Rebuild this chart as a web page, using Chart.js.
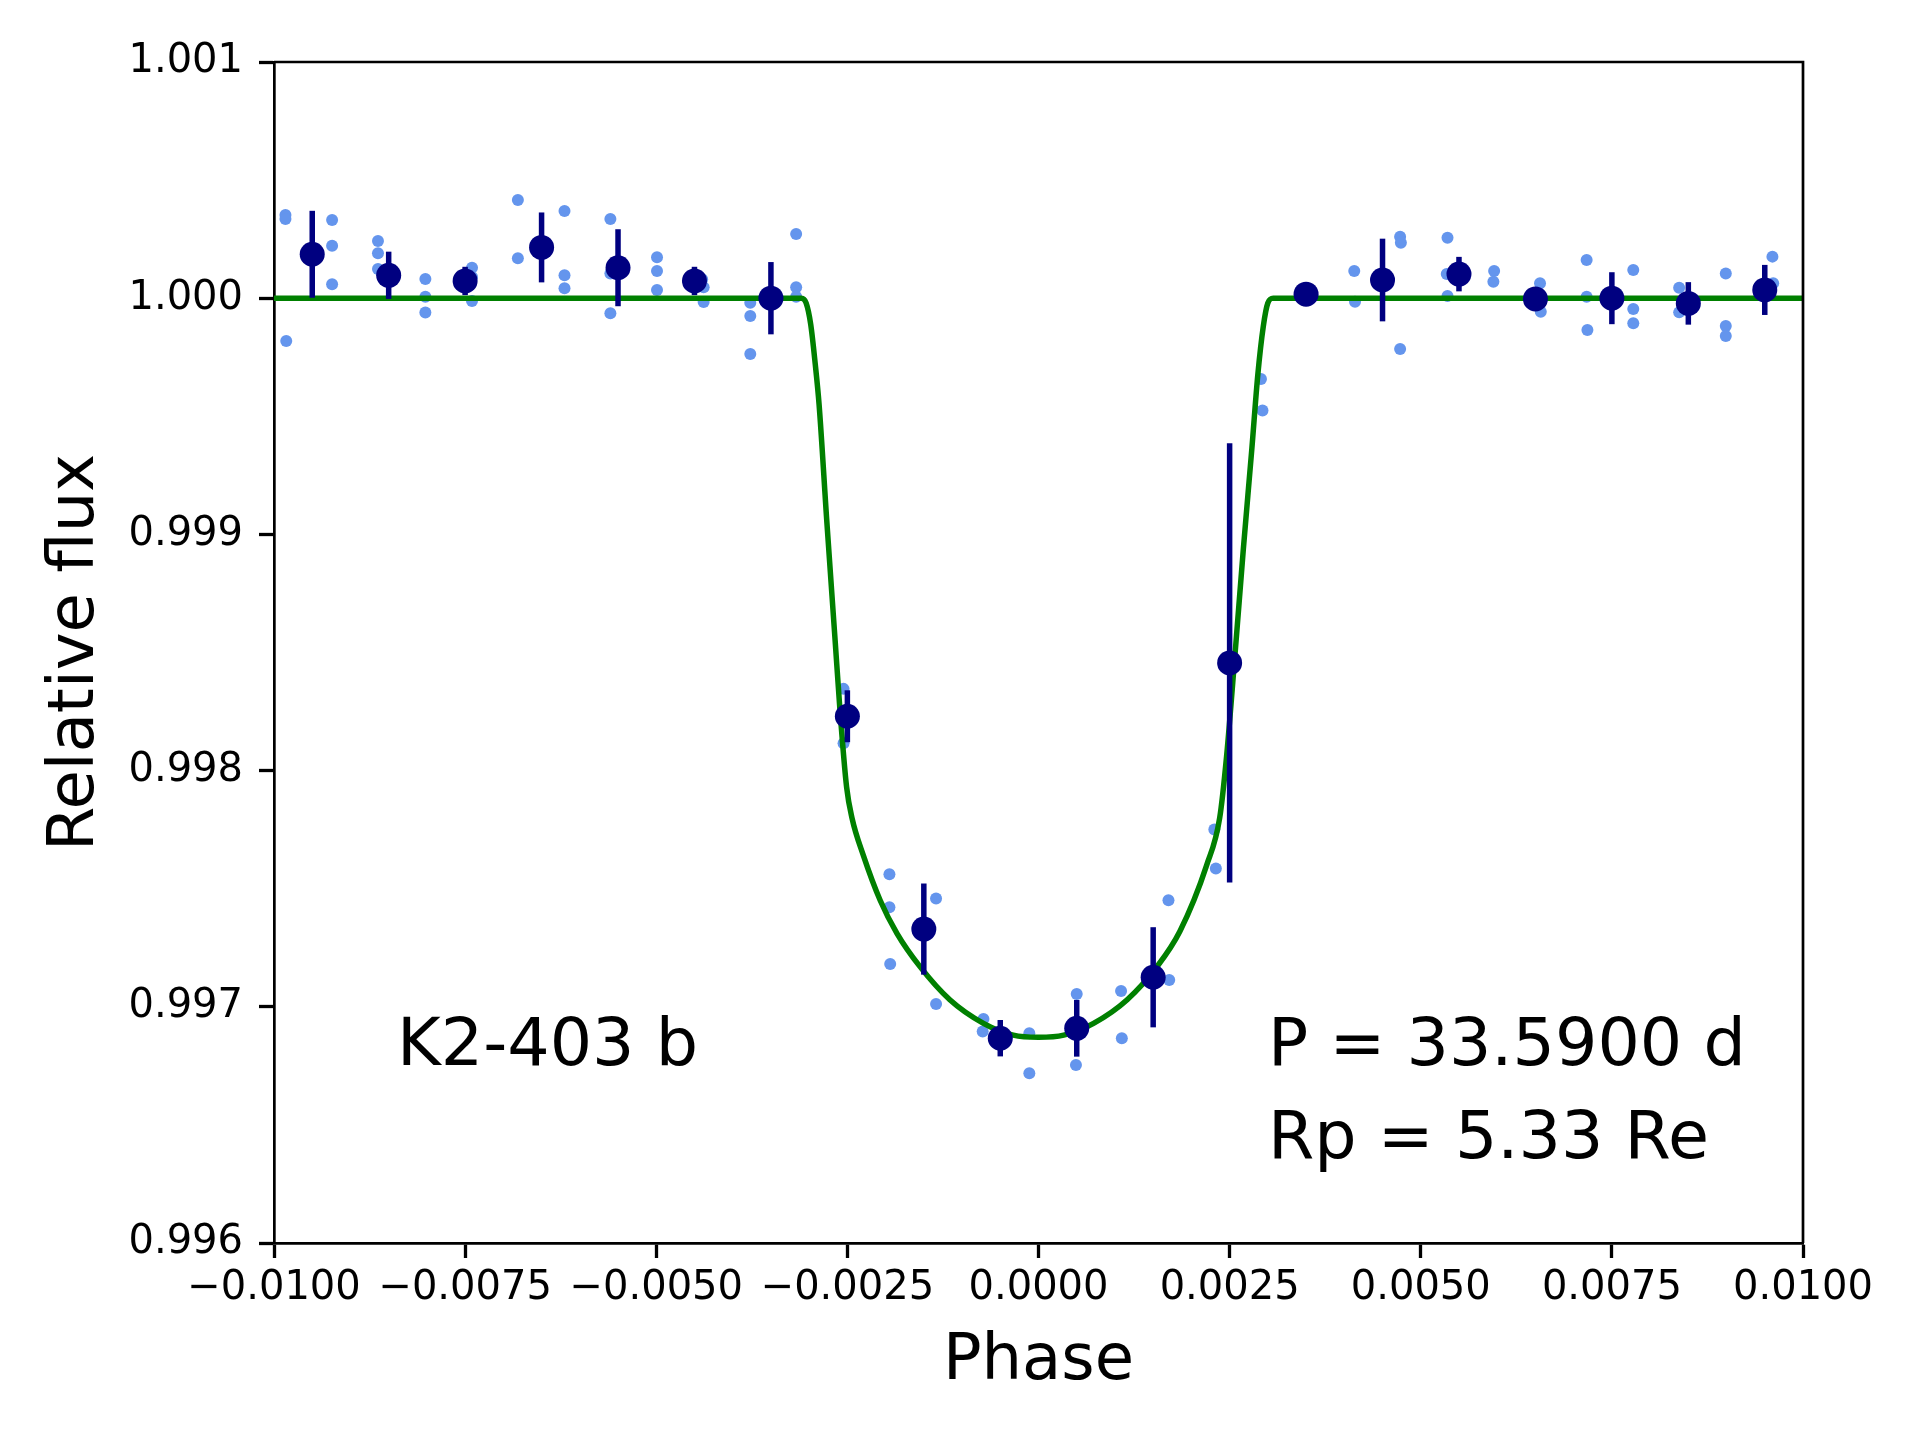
<!DOCTYPE html>
<html>
<head>
<meta charset="utf-8">
<title>K2-403 b transit</title>
<script src="https://cdn.jsdelivr.net/npm/chart.js@4.4.1/dist/chart.umd.min.js"></script>
<style>
  html, body { margin: 0; padding: 0; background: #fff; }
  #wrap { width: 1920px; height: 1440px; }
</style>
</head>
<body>
<div id="wrap"><canvas id="lc" width="1920" height="1440"></canvas></div>
<script>
// unbinned photometry
const lightPhase = [
  -0.00985, -0.00985, -0.00984, -0.00924, -0.00924, -0.00924,
  -0.00864, -0.00864, -0.00864, -0.00802, -0.00802, -0.00802,
  -0.00741, -0.00741, -0.00741, -0.00681, -0.00681,
  -0.00620, -0.00620, -0.00620, -0.00560, -0.00560, -0.00560,
  -0.00499, -0.00499, -0.00499, -0.00438, -0.00438, -0.00440,
  -0.00377, -0.00377, -0.00377, -0.00317, -0.00317, -0.00317,
  -0.00255, -0.00255, -0.00195, -0.00195, -0.00194, -0.00134, -0.00134,
  -0.00072, -0.00073, -0.00012, -0.00012, 0.00050, 0.00049,
  0.00108, 0.00109, 0.00170, 0.00171, 0.00230, 0.00232, 0.00291, 0.00293,
  0.00413, 0.00414, 0.00473, 0.00474, 0.00473,
  0.00535, 0.00534, 0.00535, 0.00596, 0.00595, 0.00656, 0.00657,
  0.00717, 0.00717, 0.00718, 0.00778, 0.00778, 0.00778,
  0.00838, 0.00838, 0.00899, 0.00899, 0.00899, 0.00960, 0.00961
];
const lightFlux = [
  1.000352, 1.000335, 0.999819, 1.000331, 1.000222, 1.000059,
  1.000242, 1.000190, 1.000124, 1.000081, 1.000006, 0.999939,
  1.000129, 1.000090, 0.999988, 1.000416, 1.000169,
  1.000369, 1.000097, 1.000042, 1.000335, 1.000105, 0.999936,
  1.000173, 1.000115, 1.000035, 1.000046, 0.999984, 1.000080,
  0.999981, 0.999925, 0.999764, 1.000272, 1.000046, 1.000006,
  0.998346, 0.998116, 0.997561, 0.997421, 0.997181, 0.997459, 0.997012,
  0.996948, 0.996895, 0.996888, 0.996719, 0.997054, 0.996754,
  0.997067, 0.996867, 0.997451, 0.997113, 0.997751, 0.997586, 0.999658, 0.999525,
  1.000115, 0.999985, 1.000260, 1.000235, 0.999785,
  1.000256, 1.000102, 1.000009, 1.000115, 1.000070, 1.000063, 0.999943,
  1.000162, 1.000006, 0.999865, 1.000119, 0.999954, 0.999894,
  1.000044, 0.999940, 1.000105, 0.999882, 0.999840, 1.000176, 1.000063
];

// binned points with errors
const binPhase = [
  -0.0095, -0.0085, -0.0075, -0.0065, -0.0055, -0.0045, -0.0035, -0.0025, -0.0015, -0.0005,
  0.0005, 0.0015, 0.0025, 0.0035, 0.0045, 0.0055, 0.0065, 0.0075, 0.0085, 0.0095
];
const binFlux = [
  1.000186, 1.000097, 1.000073, 1.000215, 1.000129, 1.000073, 1.000000, 0.998230, 0.997329, 0.996867,
  0.996909, 0.997125, 0.998456, 1.000017, 1.000077, 1.000102, 0.999997, 1.000000, 0.999978, 1.000035
];
const binErr = [
  0.000184, 0.000100, 0.000060, 0.000148, 0.000163, 0.000060, 0.000153, 0.000110, 0.000193, 0.000077,
  0.000120, 0.000212, 0.000930, 0.000000, 0.000175, 0.000073, 0.000030, 0.000110, 0.000090, 0.000106
];

// transit model
const modelPhase = [
  -0.0100, -0.00310, -0.00304, -0.00298, -0.00292, -0.00287, -0.00277, -0.00266, -0.00260, -0.00251,
  -0.00244, -0.00229, -0.00207, -0.00185, -0.00155, -0.00116, -0.00072, -0.00033, 0.00000,
  0.00033, 0.00072, 0.00116, 0.00155, 0.00185, 0.00220, 0.00237, 0.00246, 0.00257, 0.00268,
  0.00279, 0.00287, 0.00294, 0.00300, 0.00307, 0.0100
];
const modelFlux = [
  1.000000, 1.000000, 0.999980, 0.999890, 0.999720, 0.999550, 0.999060, 0.998550, 0.998270, 0.997930,
  0.997800, 0.997640, 0.997450, 0.997310, 0.997170, 0.997030, 0.996930, 0.996880, 0.996871,
  0.996880, 0.996930, 0.997030, 0.997170, 0.997320, 0.997600, 0.997800, 0.998060, 0.998490, 0.998940,
  0.999360, 0.999680, 0.999880, 0.999980, 1.000000, 1.000000
];

const xTicks = [-0.01, -0.0075, -0.005, -0.0025, 0, 0.0025, 0.005, 0.0075, 0.01];
const yTicks = [0.996, 0.997, 0.998, 0.999, 1.000, 1.001];

const planetName = "K2-403 b";
const periodText = "P = 33.5900 d";
const radiusText = "Rp = 5.33 Re";

const FONT = '"DejaVu Sans", "Liberation Sans", sans-serif';

const toPts = (xs, ys) => xs.map((x, i) => ({ x: x, y: ys[i] }));

const fmtX = (v) => {
  const s = Math.abs(v).toFixed(4);
  return v < -1e-12 ? "\u2212" + s : s;
};

// error bars go under the binned dots
const errorBars = {
  id: "errorBars",
  beforeDatasetDraw(chart, args) {
    if (args.index !== 2) return;
    const { ctx, scales } = chart;
    ctx.save();
    ctx.strokeStyle = "#000080";
    ctx.lineWidth = 5.5;
    binPhase.forEach((x, i) => {
      if (!binErr[i]) return;
      const px = scales.x.getPixelForValue(x);
      ctx.beginPath();
      ctx.moveTo(px, scales.y.getPixelForValue(binFlux[i] + binErr[i]));
      ctx.lineTo(px, scales.y.getPixelForValue(binFlux[i] - binErr[i]));
      ctx.stroke();
    });
    ctx.restore();
  },
};

const frameAndText = {
  id: "frameAndText",
  afterDraw(chart) {
    const { ctx, chartArea: a } = chart;
    ctx.save();
    ctx.strokeStyle = "#000";
    ctx.lineWidth = 2.7;
    ctx.beginPath();
    ctx.moveTo(a.left, a.top);
    ctx.lineTo(a.right, a.top);
    ctx.lineTo(a.right, a.bottom);
    ctx.stroke();

    ctx.fillStyle = "#000";
    ctx.textBaseline = "alphabetic";
    ctx.font = "66.7px " + FONT;
    ctx.textAlign = "left";
    ctx.fillText(planetName, a.left + 123, a.bottom - 178);
    ctx.fillText(periodText, a.left + 994, a.bottom - 178);
    ctx.fillText(radiusText, a.left + 994, a.bottom - 85);

    ctx.font = "64px " + FONT;
    ctx.textAlign = "center";
    ctx.fillText("Phase", (a.left + a.right) / 2, 1379);
    ctx.translate(93, (a.top + a.bottom) / 2);
    ctx.rotate(-Math.PI / 2);
    ctx.fillText("Relative flux", 0, 0);
    ctx.restore();
  },
};

const axisGrid = {
  drawOnChartArea: false,
  drawTicks: true,
  tickLength: 15,
  tickWidth: 3.3,
  tickColor: "#000",
};

new Chart(document.getElementById("lc"), {
  type: "scatter",
  data: {
    datasets: [
      {
        label: "data",
        data: toPts(lightPhase, lightFlux),
        backgroundColor: "#6495ED",
        borderWidth: 0,
        pointRadius: 6,
        order: 3,
      },
      {
        label: "model",
        type: "line",
        data: toPts(modelPhase, modelFlux),
        borderColor: "#008000",
        borderWidth: 5.5,
        pointRadius: 0,
        fill: false,
        cubicInterpolationMode: "monotone",
        order: 2,
      },
      {
        label: "binned",
        data: toPts(binPhase, binFlux),
        backgroundColor: "#000080",
        borderWidth: 0,
        pointRadius: 12.5,
        order: 1,
      },
    ],
  },
  options: {
    responsive: false,
    devicePixelRatio: 1,
    animation: false,
    layout: { padding: { left: 0, right: 117, top: 62, bottom: 0 } },
    plugins: {
      legend: { display: false },
      tooltip: { enabled: false },
    },
    scales: {
      x: {
        type: "linear",
        min: -0.01,
        max: 0.01,
        afterBuildTicks: (s) => { s.ticks = xTicks.map((v) => ({ value: v })); },
        afterFit: (s) => { s.height = 197; },
        grid: axisGrid,
        border: { display: true, color: "#000", width: 2.7 },
        ticks: {
          color: "#000",
          font: { family: FONT, size: 40 },
          padding: 7,
          maxRotation: 0,
          autoSkip: false,
          callback: (v) => fmtX(v),
        },
      },
      y: {
        type: "linear",
        min: 0.996,
        max: 1.001,
        afterBuildTicks: (s) => { s.ticks = yTicks.map((v) => ({ value: v })); },
        afterFit: (s) => { s.width = 274; },
        grid: axisGrid,
        border: { display: true, color: "#000", width: 2.7 },
        ticks: {
          color: "#000",
          font: { family: FONT, size: 40 },
          padding: 16,
          autoSkip: false,
          callback: (v) => v.toFixed(3),
        },
      },
    },
  },
  plugins: [errorBars, frameAndText],
});
</script>
</body>
</html>
